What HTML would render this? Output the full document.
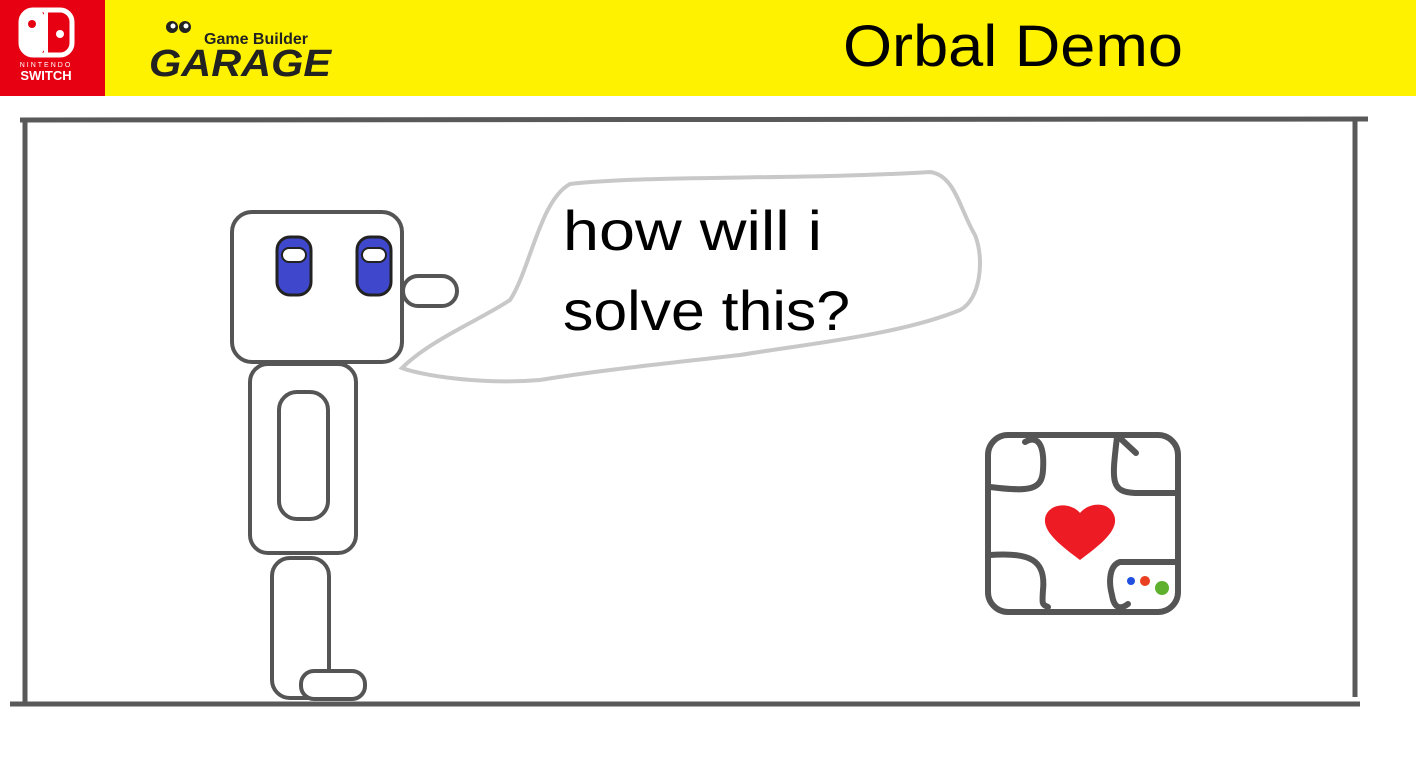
<!DOCTYPE html>
<html><head><meta charset="utf-8"><style>
html,body{margin:0;padding:0;background:#fff;width:1416px;height:779px;overflow:hidden}
</style></head><body>
<svg width="1416" height="779" viewBox="0 0 1416 779" xmlns="http://www.w3.org/2000/svg">
<rect x="0" y="0" width="1416" height="96" fill="#fff200"/>
<rect x="0" y="0" width="105" height="96" fill="#e60012"/>
<!-- switch logo -->
<rect x="21" y="10" width="51" height="45" rx="12" fill="none" stroke="#fff" stroke-width="5"/>
<line x1="46" y1="10" x2="46" y2="55" stroke="#fff" stroke-width="4"/>
<rect x="21" y="10" width="25" height="45" rx="11" fill="#fff"/>
<circle cx="32" cy="24" r="4" fill="#e60012"/>
<circle cx="60" cy="34" r="4" fill="#fff"/>
<text x="46" y="67" font-family="Liberation Sans,sans-serif" font-size="7" fill="#fff" text-anchor="middle" letter-spacing="2">NINTENDO</text>
<text x="46" y="80" font-family="Liberation Sans,sans-serif" font-size="13" font-weight="bold" fill="#fff" text-anchor="middle">SWITCH</text>
<!-- GBG logo -->
<circle cx="172" cy="27" r="6" fill="#222"/><circle cx="185" cy="27" r="6" fill="#222"/>
<circle cx="173" cy="26" r="2.5" fill="#fff"/><circle cx="186" cy="26" r="2.5" fill="#fff"/>
<text x="204" y="44" font-family="Liberation Sans,sans-serif" font-size="16" font-weight="bold" fill="#222">Game Builder</text>
<text x="149" y="76" font-family="Liberation Sans,sans-serif" font-size="38" font-weight="900" fill="#222" font-style="italic" textLength="182" lengthAdjust="spacingAndGlyphs">GARAGE</text>
<text x="843" y="66" font-family="Liberation Sans,sans-serif" font-size="58" fill="#000" textLength="340" lengthAdjust="spacingAndGlyphs">Orbal Demo</text>
<!-- frame -->
<g stroke="#595959" stroke-width="5" fill="none">
<line x1="20" y1="120" x2="1368" y2="119"/>
<line x1="25" y1="119" x2="25" y2="703"/>
<line x1="1355" y1="119" x2="1355" y2="697"/>
<line x1="10" y1="704" x2="1360" y2="704"/>
</g>
<!-- robot -->
<g stroke="#555" stroke-width="4" fill="#fff">
<rect x="232" y="212" width="170" height="150" rx="20"/>
<rect x="403" y="276" width="54" height="30" rx="15"/>
<rect x="250" y="364" width="106" height="189" rx="18"/>
<rect x="279" y="392" width="49" height="127" rx="18"/>
<rect x="272" y="558" width="57" height="140" rx="18"/>
<rect x="301" y="671" width="64" height="28" rx="13"/>
</g>
<g stroke="#222" stroke-width="3">
<rect x="277" y="237" width="34" height="58" rx="13" fill="#3f48cc"/>
<rect x="357" y="237" width="34" height="58" rx="13" fill="#3f48cc"/>
</g>
<rect x="282" y="248" width="24" height="14" rx="7" fill="#fff" stroke="#222" stroke-width="2"/>
<rect x="362" y="248" width="24" height="14" rx="7" fill="#fff" stroke="#222" stroke-width="2"/>
<!-- bubble -->
<path d="M402 368 C430 340 480 320 510 300 C530 270 540 200 570 184 C650 175 800 180 930 172 C955 175 960 210 975 235 C985 260 980 300 960 310 C900 335 800 345 740 355 C680 362 600 370 540 380 C480 385 420 375 402 368 Z" fill="none" stroke="#c8c8c8" stroke-width="4"/>
<text x="563" y="250" font-family="Liberation Sans,sans-serif" font-size="56" fill="#000" textLength="259" lengthAdjust="spacingAndGlyphs">how will i</text>
<text x="563" y="330" font-family="Liberation Sans,sans-serif" font-size="56" fill="#000" textLength="287" lengthAdjust="spacingAndGlyphs">solve this?</text>
<!-- box -->
<g stroke="#555" stroke-width="6" fill="none" stroke-linecap="round">
<rect x="988" y="435" width="190" height="177" rx="20"/>
<path d="M1025 442 C1035 436 1045 440 1043 470 C1042 490 1030 492 990 487"/>
<path d="M1117 437 C1112 480 1110 492 1135 493 L1176 493"/>
<path d="M1122 440 L1136 453"/>
<path d="M990 555 C1030 552 1046 560 1043 590 C1042 605 1042 604 1048 607"/>
<path d="M1176 562 L1120 562 C1110 565 1108 580 1112 595 C1114 608 1120 610 1128 604"/>
</g>
<path d="M1080 560 C1060 545 1040 530 1046 515 C1052 502 1072 503 1080 513 C1088 503 1108 500 1114 515 C1120 530 1100 545 1080 560 Z" fill="#ed1c24"/>
<circle cx="1131" cy="581" r="4" fill="#2050e0"/>
<circle cx="1145" cy="581" r="5" fill="#e84020"/>
<circle cx="1162" cy="588" r="7" fill="#60b030"/>
</svg>
</body></html>
